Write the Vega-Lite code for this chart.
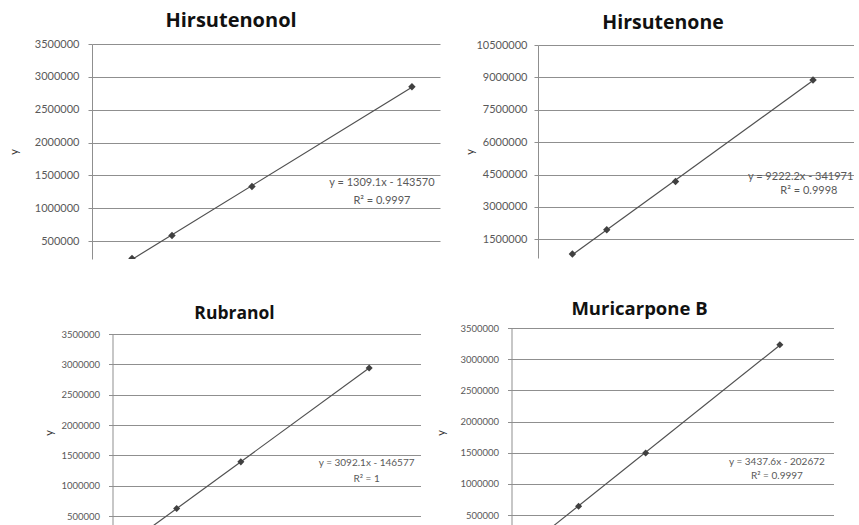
{
  "$schema": "https://vega.github.io/schema/vega-lite/v6.json",
  "padding": {"left": 8, "top": 11, "right": 0, "bottom": 0},
  "background": "white",
  "datasets": {
    "calibration": [
      {"compound": "Hirsutenonol", "x": 285, "y": 235000},
      {"compound": "Hirsutenonol", "x": 570, "y": 585000},
      {"compound": "Hirsutenonol", "x": 1140, "y": 1330000},
      {"compound": "Hirsutenonol", "x": 2280, "y": 2850000},
      {"compound": "Hirsutenone", "x": 125, "y": 815000},
      {"compound": "Hirsutenone", "x": 250, "y": 1945000},
      {"compound": "Hirsutenone", "x": 500, "y": 4180000},
      {"compound": "Hirsutenone", "x": 1000, "y": 8880000},
      {"compound": "Rubranol", "x": 125, "y": 240000},
      {"compound": "Rubranol", "x": 250, "y": 627000},
      {"compound": "Rubranol", "x": 500, "y": 1395000},
      {"compound": "Rubranol", "x": 1000, "y": 2940000},
      {"compound": "Muricarpone B", "x": 125, "y": 230000},
      {"compound": "Muricarpone B", "x": 250, "y": 640000},
      {"compound": "Muricarpone B", "x": 500, "y": 1495000},
      {"compound": "Muricarpone B", "x": 1000, "y": 3230000}
    ],
    "equations": [
      {"compound": "Hirsutenonol", "equation": "y = 1309.1x - 143570", "rsq": "R² = 0.9997"},
      {"compound": "Hirsutenone", "equation": "y = 9222.2x - 341971", "rsq": "R² = 0.9998"},
      {"compound": "Rubranol", "equation": "y = 3092.1x - 146577", "rsq": "R² = 1"},
      {"compound": "Muricarpone B", "equation": "y = 3437.6x - 202672", "rsq": "R² = 0.9997"}
    ]
  },
  "config": {
    "view": {"stroke": null},
    "font": "Lato",
    "axisY": {
      "grid": true,
      "gridColor": "#8f8f8f",
      "gridOpacity": 1,
      "domainColor": "#8f8f8f",
      "tickColor": "#8f8f8f",
      "tickSize": 4,
      "tickCount": 12,
      "labelColor": "#595959",
      "labelFont": "Lato",
      "labelPadding": 9,
      "labelOverlap": false,
      "titleColor": "#333333",
      "titleFont": "Lato",
      "titleFontWeight": "normal",
      "titleFontSize": 11,
      "titlePadding": 10
    },
    "title": {"font": "Open Sans", "fontWeight": "bold", "color": "#111111", "anchor": "middle", "frame": "group"}
  },
  "center": true,
  "spacing": 40,
  "vconcat": [
    {
      "spacing": 24,
      "center": true,
      "hconcat": [
        {
          "width": 348,
          "height": 215,
          "title": {"text": "Hirsutenonol", "fontSize": 20, "dx": -35, "offset": 7},
          "layer": [
            {
              "data": {"name": "calibration"},
              "transform": [{"filter": {"field": "compound", "equal": "Hirsutenonol"}}, {"regression": "y", "on": "x"}],
              "mark": {"type": "line", "color": "#505050", "strokeWidth": 1.2, "clip": true},
              "encoding": {
                "x": {"field": "x", "type": "quantitative", "scale": {"domain": [0, 2480], "nice": false, "zero": false}, "axis": null},
                "y": {"field": "y", "type": "quantitative", "scale": {"domain": [226000, 3500000], "nice": false, "zero": false},
                      "axis": {"title": "y", "format": "d", "labelFontSize": 11, "titlePadding": 15, "values": [500000, 1000000, 1500000, 2000000, 2500000, 3000000, 3500000]}}
              }
            },
            {
              "data": {"name": "calibration"},
              "transform": [{"filter": {"field": "compound", "equal": "Hirsutenonol"}}],
              "mark": {"type": "point", "shape": "diamond", "filled": true, "size": 55, "color": "#404040", "opacity": 1, "clip": true},
              "encoding": {"x": {"field": "x", "type": "quantitative"}, "y": {"field": "y", "type": "quantitative"}}
            },
            {
              "data": {"name": "equations"},
              "transform": [{"filter": {"field": "compound", "equal": "Hirsutenonol"}}],
              "mark": {"type": "text", "fontSize": 11, "color": "#595959", "baseline": "middle"},
              "encoding": {"x": {"datum": 2066}, "y": {"datum": 1383000}, "text": {"field": "equation"}}
            },
            {
              "data": {"name": "equations"},
              "transform": [{"filter": {"field": "compound", "equal": "Hirsutenonol"}}],
              "mark": {"type": "text", "fontSize": 11, "color": "#595959", "baseline": "middle"},
              "encoding": {"x": {"datum": 2066}, "y": {"datum": 1109000}, "text": {"field": "rsq"}}
            }
          ]
        },
        {
          "width": 316,
          "height": 213,
          "title": {"text": "Hirsutenone", "fontSize": 19.5, "dx": -33, "offset": 6},
          "layer": [
            {
              "data": {"name": "calibration"},
              "transform": [{"filter": {"field": "compound", "equal": "Hirsutenone"}}, {"regression": "y", "on": "x"}],
              "mark": {"type": "line", "color": "#505050", "strokeWidth": 1.2, "clip": true},
              "encoding": {
                "x": {"field": "x", "type": "quantitative", "scale": {"domain": [0, 1149], "nice": false, "zero": false}, "axis": null},
                "y": {"field": "y", "type": "quantitative", "scale": {"domain": [633000, 10500000], "nice": false, "zero": false},
                      "axis": {"title": "y", "format": "d", "labelFontSize": 11, "labelPadding": 7, "titlePadding": 0, "values": [1500000, 3000000, 4500000, 6000000, 7500000, 9000000, 10500000]}}
              }
            },
            {
              "data": {"name": "calibration"},
              "transform": [{"filter": {"field": "compound", "equal": "Hirsutenone"}}],
              "mark": {"type": "point", "shape": "diamond", "filled": true, "size": 55, "color": "#404040", "opacity": 1, "clip": true},
              "encoding": {"x": {"field": "x", "type": "quantitative"}, "y": {"field": "y", "type": "quantitative"}}
            },
            {
              "data": {"name": "equations"},
              "transform": [{"filter": {"field": "compound", "equal": "Hirsutenone"}}],
              "mark": {"type": "text", "fontSize": 11, "color": "#595959", "baseline": "middle"},
              "encoding": {"x": {"datum": 955}, "y": {"datum": 4400000}, "text": {"field": "equation"}}
            },
            {
              "data": {"name": "equations"},
              "transform": [{"filter": {"field": "compound", "equal": "Hirsutenone"}}],
              "mark": {"type": "text", "fontSize": 11, "color": "#595959", "baseline": "middle"},
              "encoding": {"x": {"datum": 985}, "y": {"datum": 3720000}, "text": {"field": "rsq"}}
            }
          ]
        }
      ]
    },
    {
      "spacing": 15,
      "center": true,
      "hconcat": [
        {
          "width": 308,
          "height": 197,
          "title": {"text": "Rubranol", "fontSize": 17.5, "dx": -32, "offset": 6.5},
          "layer": [
            {
              "data": {"name": "calibration"},
              "transform": [{"filter": {"field": "compound", "equal": "Rubranol"}}, {"regression": "y", "on": "x"}],
              "mark": {"type": "line", "color": "#505050", "strokeWidth": 1.2, "clip": true},
              "encoding": {
                "x": {"field": "x", "type": "quantitative", "scale": {"domain": [0, 1200], "nice": false, "zero": false}, "axis": null},
                "y": {"field": "y", "type": "quantitative", "scale": {"domain": [256700, 3500000], "nice": false, "zero": false},
                      "axis": {"title": "y", "format": "d", "labelFontSize": 9.5, "titlePadding": 6, "values": [500000, 1000000, 1500000, 2000000, 2500000, 3000000, 3500000]}}
              }
            },
            {
              "data": {"name": "calibration"},
              "transform": [{"filter": {"field": "compound", "equal": "Rubranol"}}],
              "mark": {"type": "point", "shape": "diamond", "filled": true, "size": 50, "color": "#404040", "opacity": 1, "clip": true},
              "encoding": {"x": {"field": "x", "type": "quantitative"}, "y": {"field": "y", "type": "quantitative"}}
            },
            {
              "data": {"name": "equations"},
              "transform": [{"filter": {"field": "compound", "equal": "Rubranol"}}],
              "mark": {"type": "text", "fontSize": 10, "color": "#595959", "baseline": "middle"},
              "encoding": {"x": {"datum": 990}, "y": {"datum": 1368000}, "text": {"field": "equation"}}
            },
            {
              "data": {"name": "equations"},
              "transform": [{"filter": {"field": "compound", "equal": "Rubranol"}}],
              "mark": {"type": "text", "fontSize": 10, "color": "#595959", "baseline": "middle"},
              "encoding": {"x": {"datum": 990}, "y": {"datum": 1121000}, "text": {"field": "rsq"}}
            }
          ]
        },
        {
          "width": 322,
          "height": 209,
          "title": {"text": "Muricarpone B", "fontSize": 18.5, "dx": -33, "offset": 5},
          "layer": [
            {
              "data": {"name": "calibration"},
              "transform": [{"filter": {"field": "compound", "equal": "Muricarpone B"}}, {"regression": "y", "on": "x"}],
              "mark": {"type": "line", "color": "#505050", "strokeWidth": 1.2, "clip": true},
              "encoding": {
                "x": {"field": "x", "type": "quantitative", "scale": {"domain": [0, 1200], "nice": false, "zero": false}, "axis": null},
                "y": {"field": "y", "type": "quantitative", "scale": {"domain": [147400, 3500000], "nice": false, "zero": false},
                      "axis": {"title": "y", "format": "d", "labelFontSize": 9.5, "titlePadding": 13, "values": [500000, 1000000, 1500000, 2000000, 2500000, 3000000, 3500000]}}
              }
            },
            {
              "data": {"name": "calibration"},
              "transform": [{"filter": {"field": "compound", "equal": "Muricarpone B"}}],
              "mark": {"type": "point", "shape": "diamond", "filled": true, "size": 50, "color": "#404040", "opacity": 1, "clip": true},
              "encoding": {"x": {"field": "x", "type": "quantitative"}, "y": {"field": "y", "type": "quantitative"}}
            },
            {
              "data": {"name": "equations"},
              "transform": [{"filter": {"field": "compound", "equal": "Muricarpone B"}}],
              "mark": {"type": "text", "fontSize": 10, "color": "#595959", "baseline": "middle"},
              "encoding": {"x": {"datum": 989}, "y": {"datum": 1350000}, "text": {"field": "equation"}}
            },
            {
              "data": {"name": "equations"},
              "transform": [{"filter": {"field": "compound", "equal": "Muricarpone B"}}],
              "mark": {"type": "text", "fontSize": 10, "color": "#595959", "baseline": "middle"},
              "encoding": {"x": {"datum": 989}, "y": {"datum": 1126000}, "text": {"field": "rsq"}}
            }
          ]
        }
      ]
    }
  ]
}
